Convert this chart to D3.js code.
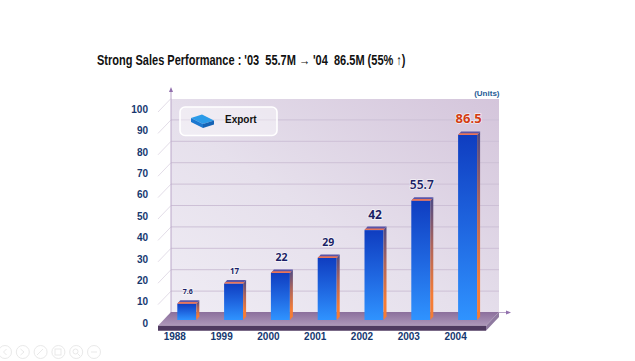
<!DOCTYPE html>
<html lang="en">
<head>
    <meta charset="UTF-8">
    <title>Export</title>
    <script src="https://d3js.org/d3.v7.min.js"></script>
    <style>
        html, body { margin: 0; padding: 0; background: #fff; }
        svg { display: block; font-family: "Liberation Sans", Arial, sans-serif; }
    </style>
</head>
<body>
    <div class="chart"></div>
    <script>
        const years = ['1988', '1999', '2000', '2001', '2002', '2003', '2004']
        const exports_ = [7.6, 17, 22, 29, 42, 55.7, 86.5]
        const valueLabels = ['7.6', '17', '22', '29', '42', '55.7', '86.5']
        const yTicks = [0, 10, 20, 30, 40, 50, 60, 70, 80, 90, 100]

        const width = 635, height = 361
        const navy = '#16386f'

        // 3d offsets
        const depthX = 13, depthY = 13.5   // floor depth
        const sideX = 3, sideY = 3.5       // bar depth
        const baseY = 320                  // front bottom of the bars
        const wallLeft = 171, wallRight = 499, wallTop = 99

        const svg = d3.select('.chart').append('svg')
            .attr('width', width)
            .attr('height', height)

        const defs = svg.append('defs')

        function linear(id, x1, y1, x2, y2, stops) {
            const g = defs.append('linearGradient').attr('id', id)
                .attr('x1', x1).attr('y1', y1).attr('x2', x2).attr('y2', y2)
            stops.forEach(s => g.append('stop').attr('offset', s[0]).attr('stop-color', s[1]))
        }
        linear('wall', 0, 1, 1, 0, [[0, '#efecf4'], [0.45, '#e6e0ec'], [1, '#d4c5db']])
        linear('bar', 0, 0, 0, 1, [[0, '#0f3dc0'], [0.5, '#1f66e0'], [1, '#2f93ff']])
        linear('side', 0, 0, 0, 1, [[0, '#4b4a86'], [0.4, '#b0655a'], [0.8, '#f57c35'], [1, '#f57c35']])
        linear('floor', 0, 0, 0, 1, [[0, '#8b6f9c'], [1, '#ae98ba']])

        const x = d3.scaleBand()
            .domain(years)
            .range([177.3, 477.1])
            .paddingInner(0.594)
            .paddingOuter(0)

        const y = d3.scaleLinear()
            .domain([0, 100])
            .range([baseY, baseY - 214])

        // title, squeezed sideways to the reference width
        const title = svg.append('text')
            .attr('font-size', 14).attr('font-weight', 'bold')
            .attr('fill', '#111')
            .style('white-space', 'pre')
            .text("Strong Sales Performance : '03  55.7M \u2192 '04  86.5M (55% \u2191)")
        const titleScale = 309 / title.node().getComputedTextLength()
        title.attr('transform', `translate(97,65) scale(${titleScale},1)`)

        // wall
        svg.append('rect')
            .attr('x', wallLeft).attr('y', wallTop)
            .attr('width', wallRight - wallLeft).attr('height', 313 - wallTop)
            .attr('fill', 'url(#wall)')

        // gridlines on the wall, the scale sits depthY/2 above the bars' base
        const wallShift = -7.5
        svg.append('g').selectAll('line')
            .data(yTicks.filter(d => d > 0 && d < 100))
            .join('line')
            .attr('x1', wallLeft).attr('x2', wallRight)
            .attr('y1', d => y(d) + wallShift).attr('y2', d => y(d) + wallShift)
            .attr('stroke', '#cdc0d6').attr('stroke-width', 1)

        // little diagonals left of the wall
        svg.append('g').selectAll('line')
            .data(yTicks.filter(d => d > 0))
            .join('line')
            .attr('x1', wallLeft).attr('x2', wallLeft - depthX)
            .attr('y1', d => y(d) + wallShift).attr('y2', d => y(d) + wallShift + depthY)
            .attr('stroke', '#e3dde8').attr('stroke-width', 1)

        // axis arrows
        svg.append('line')
            .attr('x1', wallLeft).attr('x2', wallLeft).attr('y1', 313).attr('y2', 90)
            .attr('stroke', '#b9a6c8')
        svg.append('path')
            .attr('d', d3.line()([[wallLeft - 2, 92], [wallLeft, 87], [wallLeft + 2, 92]]))
            .attr('fill', '#9270ad')
        svg.append('line')
            .attr('x1', wallRight).attr('x2', 508).attr('y1', 312.5).attr('y2', 312.5)
            .attr('stroke', '#b9a6c8')
        svg.append('path')
            .attr('d', d3.line()([[506, 310.5], [511, 312.5], [506, 314.5]]))
            .attr('fill', '#9270ad')

        // floor
        const floorBack = 312, floorFront = 325.7, floorBottom = 330.7
        svg.append('path')
            .attr('d', d3.line()([[wallLeft, floorBack], [wallRight, floorBack], [wallRight - depthX, floorFront], [wallLeft - depthX, floorFront]]) + 'Z')
            .attr('fill', 'url(#floor)')
        svg.append('path')
            .attr('d', d3.line()([[wallLeft - depthX, floorFront], [wallRight - depthX, floorFront], [wallRight - depthX, floorBottom], [wallLeft - depthX, floorBottom]]) + 'Z')
            .attr('fill', '#4f3a60')
        svg.append('path')
            .attr('d', d3.line()([[wallRight, floorBack], [wallRight - depthX, floorFront], [wallRight - depthX, floorBottom], [wallRight, floorBack + 5]]) + 'Z')
            .attr('fill', '#8f7aa0')

        // legend
        svg.append('rect')
            .attr('x', 180).attr('y', 107).attr('width', 97).attr('height', 28.5).attr('rx', 5)
            .attr('fill', '#fff').attr('fill-opacity', 0.42)
            .attr('stroke', '#fff').attr('stroke-width', 1.6)
        svg.append('path').attr('d', 'M191 118L202 114.5L214 120.5L203 124Z').attr('fill', '#2b9be8')
        svg.append('path').attr('d', 'M191 118L203 124V128L191 122Z').attr('fill', '#1c78d0')
        svg.append('path').attr('d', 'M203 124L214 120.5V124.5L203 128Z').attr('fill', '#1563b5')
        svg.append('text')
            .attr('x', 225).attr('y', 123)
            .attr('font-size', 10).attr('font-weight', 'bold').attr('fill', '#111')
            .text('Export')

        // units
        svg.append('text')
            .attr('x', 499.5).attr('y', 96).attr('text-anchor', 'end')
            .attr('font-size', 8).attr('font-weight', 'bold').attr('fill', '#1f5c96')
            .text('(Units)')

        // bars
        const bars = svg.append('g').selectAll('g')
            .data(years.map((year, i) => ({ year, value: exports_[i], label: valueLabels[i] })))
            .join('g')

        bars.append('rect')
            .attr('x', d => x(d.year)).attr('y', d => y(d.value))
            .attr('width', x.bandwidth()).attr('height', d => baseY - y(d.value))
            .attr('fill', 'url(#bar)')

        // right side face
        bars.append('path')
            .attr('d', d => {
                const r = x(d.year) + x.bandwidth(), t = y(d.value)
                return d3.line()([[r, t], [r + sideX, t - sideY], [r + sideX, baseY - sideY], [r, baseY]]) + 'Z'
            })
            .attr('fill', 'url(#side)')

        // top face
        bars.append('path')
            .attr('d', d => {
                const l = x(d.year), r = l + x.bandwidth(), t = y(d.value)
                return d3.line()([[l, t], [l + sideX, t - sideY], [r + sideX, t - sideY], [r, t]]) + 'Z'
            })
            .attr('fill', '#5a55a8')
        bars.append('path')
            .attr('d', d => {
                const l = x(d.year), r = l + x.bandwidth(), t = y(d.value)
                return d3.line()([[l, t], [l + 1.5, t - 1.7], [r + 1.5, t - 1.7], [r, t]]) + 'Z'
            })
            .attr('fill', '#e8755a')

        // value labels, they grow with the bars
        function labelSize(v) {
            if (v < 10) return 7
            if (v < 20) return 8
            if (v < 40) return 10.5
            if (v < 60) return 12
            return 13
        }
        bars.append('text')
            .attr('x', d => x(d.year) + x.bandwidth() / 2 + 1)
            .attr('y', d => y(d.value) - (d.value < 20 ? 10 : d.value === 42 ? 11 : 12))
            .attr('text-anchor', 'middle')
            .attr('font-family', '"Noto Sans", sans-serif')
            .attr('font-weight', d => d.value > 50 && d.value < 80 ? 600 : 'bold')
            .attr('font-size', d => labelSize(d.value))
            .attr('fill', d => d.value > 80 ? '#d43c12' : '#1b1f66')
            .attr('stroke', '#fff').attr('stroke-width', 1.5).attr('stroke-opacity', 0.7)
            .attr('paint-order', 'stroke')
            .text(d => d.label)

        // axes (labels only)
        const yAxis = svg.append('g')
            .attr('transform', 'translate(148,3)')
            .call(d3.axisLeft(y).tickValues(yTicks).tickSize(0).tickPadding(0))
        const xAxis = svg.append('g')
            .attr('transform', 'translate(-12,333)')
            .call(d3.axisBottom(x).tickSize(0).tickPadding(0))
        ;[yAxis, xAxis].forEach(a => {
            a.select('.domain').remove()
            a.selectAll('text')
                .attr('font-family', '"Liberation Sans", Arial, sans-serif')
                .attr('font-size', 10).attr('font-weight', 'bold').attr('fill', navy)
        })

        // slideshow buttons bottom left
        const navX = d3.scaleLinear().domain([0, 5]).range([5, 94])
        const nav = svg.append('g').attr('fill', 'none').attr('stroke', '#e9e9e9')
        d3.range(6).forEach(i => {
            nav.append('circle').attr('cx', navX(i)).attr('cy', 352).attr('r', 6.5)
        })
        nav.append('path').attr('d', 'M6.5 349L3.5 352L6.5 355')
        nav.append('path').attr('d', 'M20.5 349L24 352L20.5 355')
        nav.append('path').attr('d', 'M37 355L43 349')
        nav.append('rect').attr('x', 55).attr('y', 349).attr('width', 6).attr('height', 6)
        nav.append('circle').attr('cx', 75.5).attr('cy', 351.5).attr('r', 2.5)
        nav.append('path').attr('d', 'M77.5 353.5L80 356')
        nav.append('path').attr('d', 'M91 352H97')
    </script>
</body>
</html>
